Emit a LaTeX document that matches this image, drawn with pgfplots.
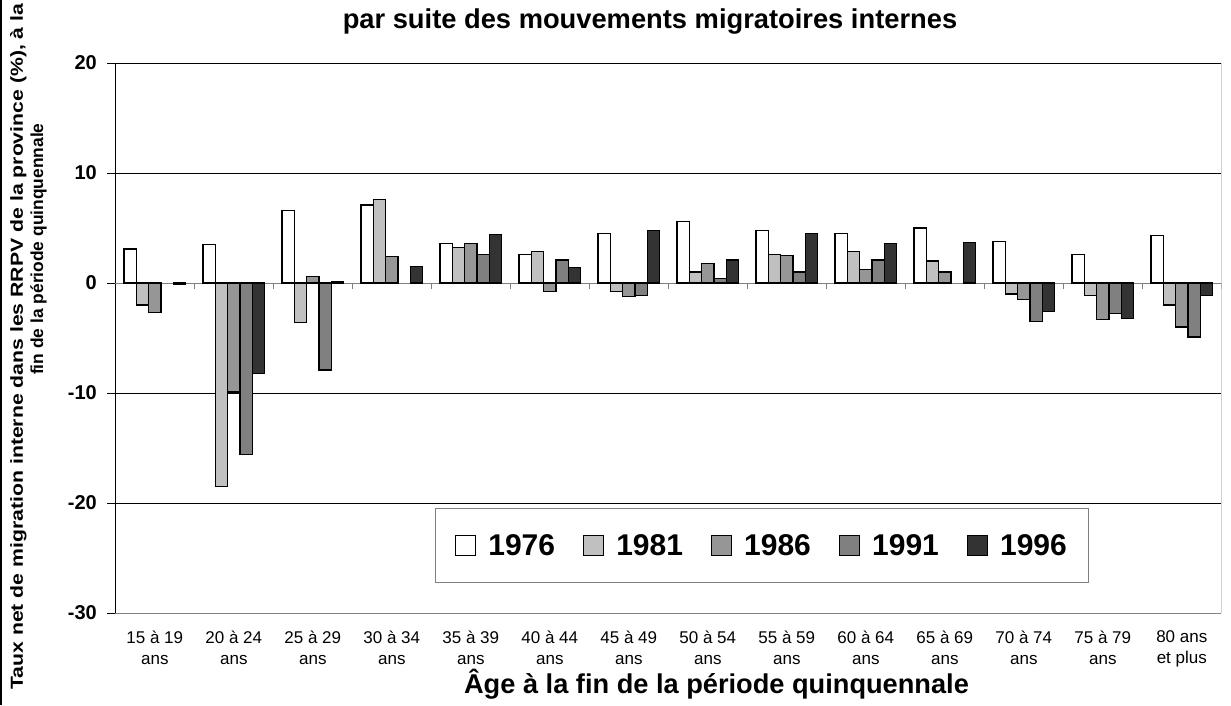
\documentclass[border=0pt]{standalone}
\usepackage{fontspec}
\setmainfont{Liberation Sans}
\usepackage{pgfplots}
\pgfplotsset{compat=1.18}

\definecolor{c1981}{HTML}{C0C0C0}
\definecolor{c1986}{HTML}{969696}
\definecolor{c1991}{HTML}{808080}
\definecolor{c1996}{HTML}{333333}
\definecolor{axisgray}{HTML}{808080}

\begin{document}
\begin{tikzpicture}[x=1pt,y=1pt]
\useasboundingbox (0,0) rectangle (1231,705);
\draw[black, line width=1.5pt] (1,0) -- (1,705);

\begin{axis}[
  at={(115.3pt,92pt)}, anchor=south west,
  scale only axis, width=1106pt, height=550pt,
  xmin=-0.5, xmax=13.5, ymin=-30, ymax=20,
  ybar=0pt, bar width=12.33pt,
  axis y line*=left, axis x line*=bottom,
  x axis line style={axisgray, line width=1pt, -},
  y axis line style={black, line width=1pt, -},
  xtick={0,...,13},
  xticklabels={{15 à 19\\ans},{20 à 24\\ans},{25 à 29\\ans},{30 à 34\\ans},
    {35 à 39\\ans},{40 à 44\\ans},{45 à 49\\ans},{50 à 54\\ans},{55 à 59\\ans},
    {60 à 64\\ans},{65 à 69\\ans},{70 à 74\\ans},{75 à 79\\ans},{80 ans\\et plus}},
  xticklabel style={align=center, font=\fontsize{17}{21}\selectfont, yshift=-6pt},
  x tick style={draw=none},
  ytick={-30,-20,-10,10,20}, yticklabels={-30,-20,-10,10,20},
  extra y ticks={0}, extra y tick labels={0},
  extra y tick style={grid style={axisgray, line width=1pt}},
  yticklabel style={font=\fontsize{20}{24}\bfseries\selectfont, xshift=-7pt},
  y tick style={black, line width=1pt},
  tick align=outside, major tick length=8pt,
  ymajorgrids, grid style={black, line width=0.9pt},
  legend columns=5,
  legend image code/.code={\draw[#1, line width=1.2pt] (0pt,-10pt) rectangle (20pt,10pt);
    \path (30pt,0pt);},
  legend style={at={(0.5847,0.1227)}, anchor=center, draw=axisgray, line width=1pt,
    fill=white, font=\fontsize{30}{36}\bfseries\selectfont,
    inner xsep=20pt, inner ysep=23.5pt,
    /tikz/every even column/.append style={column sep=26pt}},
]
\addplot[draw=black, line width=1.2pt, fill=white] coordinates {
  (0,3.1) (1,3.5) (2,6.6) (3,7.1) (4,3.6) (5,2.6) (6,4.5) (7,5.6) (8,4.8)
  (9,4.5) (10,5.0) (11,3.8) (12,2.6) (13,4.3)};
\addplot[draw=black, line width=1.2pt, fill=c1981] coordinates {
  (0,-2.0) (1,-18.5) (2,-3.6) (3,7.6) (4,3.2) (5,2.9) (6,-0.8) (7,1.0) (8,2.6)
  (9,2.9) (10,2.0) (11,-1.0) (12,-1.1) (13,-2.0)};
\addplot[draw=black, line width=1.2pt, fill=c1986] coordinates {
  (0,-2.7) (1,-9.9) (2,0.6) (3,2.4) (4,3.6) (5,-0.8) (6,-1.2) (7,1.8) (8,2.5)
  (9,1.2) (10,1.0) (11,-1.5) (12,-3.3) (13,-4.0)};
\addplot[draw=black, line width=1.2pt, fill=c1991] coordinates {
  (1,-15.6) (2,-7.9) (4,2.6) (5,2.1) (6,-1.1) (7,0.4) (8,1.0)
  (9,2.1) (11,-3.5) (12,-2.8) (13,-4.9)};
\addplot[draw=black, line width=1.2pt, fill=c1996] coordinates {
  (0,-0.1) (1,-8.2) (2,0.1) (3,1.5) (4,4.4) (5,1.4) (6,4.8) (7,2.1) (8,4.5)
  (9,3.6) (10,3.7) (11,-2.6) (12,-3.2) (13,-1.1)};
\legend{1976,1981,1986,1991,1996}

\draw[axisgray, line width=1pt] (rel axis cs:1,0) -- (rel axis cs:1,1);
\pgfplotsinvokeforeach{0.5,1.5,...,13.5}{
  \draw[axisgray, line width=1pt] (axis cs:#1,0) -- ++(0pt,-6pt);
}
\end{axis}

\node[anchor=base, font=\fontsize{27.3}{32}\bfseries\selectfont] at (650,676)
  {par suite des mouvements migratoires internes};
\node[anchor=base, font=\fontsize{27.2}{32}\bfseries\selectfont] at (716.5,12)
  {Âge à la fin de la période quinquennale};
\node[rotate=90, xscale=1.22, transform shape, anchor=base west, inner sep=0pt,
  font=\fontsize{17.4}{20}\bfseries\selectfont] at (23,15)
  {Taux net de migration interne dans les RRPV de la province (\%), à la};
\node[rotate=90, anchor=base west, inner sep=0pt, font=\fontsize{17.4}{20}\bfseries\selectfont] at (43,330)
  {fin de la période quinquennale};
\end{tikzpicture}
\end{document}
